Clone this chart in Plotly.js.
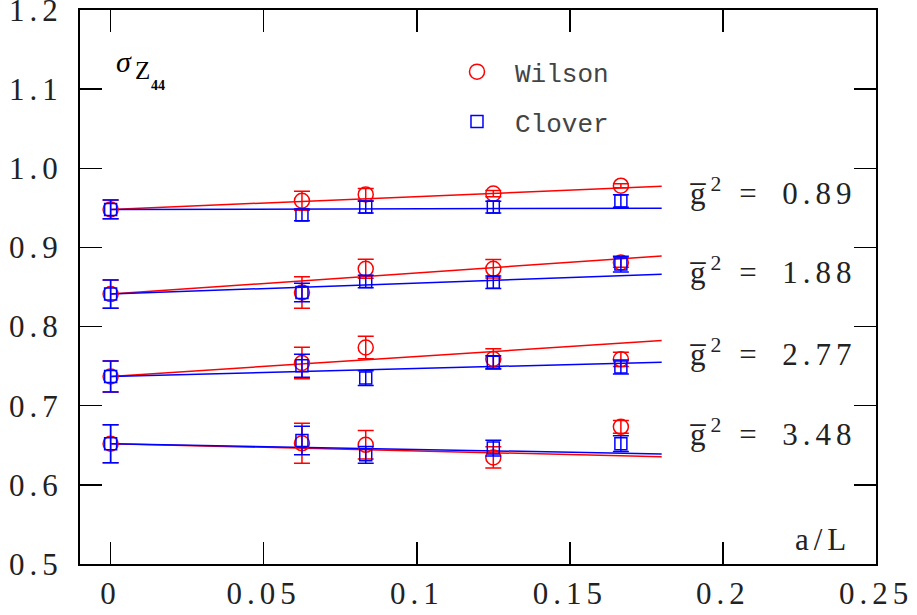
<!DOCTYPE html>
<html>
<head>
<meta charset="utf-8">
<script src="https://cdn.plot.ly/plotly-3.0.1.min.js"></script>
<style>
  html, body { margin: 0; padding: 0; background: #fff; }
  #chart { width: 917px; height: 615px; }
  .xtick text, .ytick text { letter-spacing: 5px; }
  text.annotation-text { letter-spacing: 5px; }
</style>
</head>
<body>
<div id="chart"></div>
<script>
// a/L values (L/a = inf, 16, 12, 8, 6)
const aOverL = [0, 0.0625, 0.08333, 0.125, 0.16667];
const couplings = ["0.89", "1.88", "2.77", "3.48"];

// Wilson data per coupling
const wilson089 = [0.948, 0.959, 0.967, 0.968, 0.978];
const wilson089Err = [0.0118, 0.012, 0.0076, 0.004, 0.0025];
const wilson188 = [0.841, 0.843, 0.873, 0.873, 0.881];
const wilson188Err = [0.018, 0.020, 0.012, 0.0116, 0.006];
const wilson277 = [0.737, 0.754, 0.7735, 0.759, 0.7586];
const wilson277Err = [0.0196, 0.020, 0.0143, 0.013, 0.009];
const wilson348 = [0.652, 0.6525, 0.6506, 0.6347, 0.6733];
const wilson348Err = [0.024, 0.0253, 0.018, 0.0133, 0.008];

// Clover data per coupling
const clover089 = [0.948, 0.941, 0.951, 0.951, 0.9587];
const clover089Err = [0.0118, 0.0074, 0.0074, 0.0074, 0.0078];
const clover188 = [0.841, 0.843, 0.857, 0.856, 0.879];
const clover188Err = [0.018, 0.0116, 0.008, 0.008, 0.010];
const clover277 = [0.737, 0.7506, 0.7349, 0.755, 0.749];
const clover277Err = [0.0196, 0.0145, 0.0093, 0.008, 0.0088];
const clover348 = [0.652, 0.6559, 0.6379, 0.6465, 0.652];
const clover348Err = [0.024, 0.018, 0.0105, 0.010, 0.0099];

// Linear fit lines (endpoints at a/L = 0 and 0.18)
const fitX = [0, 0.18];
const wilsonFit089 = [0.948, 0.9773];
const wilsonFit188 = [0.841, 0.8893];
const wilsonFit277 = [0.737, 0.7823];
const wilsonFit348 = [0.652, 0.6355];
const cloverFit089 = [0.948, 0.9495];
const cloverFit188 = [0.841, 0.8662];
const cloverFit277 = [0.737, 0.755];
const cloverFit348 = [0.652, 0.639];

// Axis ticks
const xTickVals = [0, 0.05, 0.1, 0.15, 0.2, 0.25];
const xTickText = ["0", "0.05", "0.1", "0.15", "0.2", "0.25"];
const yTickVals = [0.5, 0.6, 0.7, 0.8, 0.9, 1.0, 1.1, 1.2];
const yTickText = ["0.5", "0.6", "0.7", "0.8", "0.9", "1.0", "1.1", "1.2"];

const RED = "#ff0000";
const BLUE = "#0000ff";

const wilsonSets = [wilson089, wilson188, wilson277, wilson348];
const wilsonErrs = [wilson089Err, wilson188Err, wilson277Err, wilson348Err];
const cloverSets = [clover089, clover188, clover277, clover348];
const cloverErrs = [clover089Err, clover188Err, clover277Err, clover348Err];
const wilsonFits = [wilsonFit089, wilsonFit188, wilsonFit277, wilsonFit348];
const cloverFits = [cloverFit089, cloverFit188, cloverFit277, cloverFit348];

const traces = [];
wilsonFits.forEach(f => traces.push({x: fitX, y: f, mode: "lines", line: {color: RED, width: 1.5}, showlegend: false, hoverinfo: "skip"}));
cloverFits.forEach(f => traces.push({x: fitX, y: f, mode: "lines", line: {color: BLUE, width: 1.5}, showlegend: false, hoverinfo: "skip"}));

function flatX(n) { let a = []; for (let i = 0; i < n; i++) a = a.concat(aOverL); return a; }

traces.push({
  x: flatX(4), y: [].concat(...wilsonSets), name: "Wilson", legendgroup: "w",
  mode: "markers", type: "scatter",
  marker: {symbol: "circle-open", size: 15, color: RED, line: {width: 1.5, color: RED}},
  error_y: {type: "data", array: [].concat(...wilsonErrs), visible: true, color: RED, thickness: 1.5, width: 8}
});
traces.push({
  x: flatX(4), y: [].concat(...cloverSets), name: "Clover", legendgroup: "c",
  mode: "markers", type: "scatter",
  marker: {symbol: "square-open", size: 12, color: BLUE, line: {width: 1.5, color: BLUE}},
  error_y: {type: "data", array: [].concat(...cloverErrs), visible: true, color: BLUE, thickness: 1.5, width: 8}
});

const serif = "Liberation Serif, DejaVu Serif, serif";
const labelY = [0.673, 0.529, 0.382, 0.237];
const annotations = couplings.map((c, i) => ({
  xref: "paper", yref: "paper", x: 0.977, y: labelY[i], xanchor: "right", yanchor: "middle",
  text: "g\u0305<sup>2</sup> =\u2002" + c, showarrow: false,
  font: {family: serif, size: 31, color: "#222"}
}));
annotations.push({xref: "paper", yref: "paper", x: 0.0575, y: 0.907, xanchor: "center", yanchor: "middle",
  text: "<i>σ</i>", showarrow: false, font: {family: serif, size: 30, color: "#000"}});
annotations.push({xref: "paper", yref: "paper", x: 0.0815, y: 0.890, xanchor: "center", yanchor: "middle",
  text: "Z", showarrow: false, font: {family: serif, size: 25, color: "#000"}});
annotations.push({xref: "paper", yref: "paper", x: 0.0985, y: 0.863, xanchor: "center", yanchor: "middle",
  text: "<b><span style=\"letter-spacing:0px\">44</span></b>", showarrow: false, font: {family: serif, size: 14, color: "#000"}});
annotations.push({xref: "paper", yref: "paper", x: 0.934, y: 0.045, xanchor: "center", yanchor: "middle",
  text: "a/L", showarrow: false, font: {family: serif, size: 31, color: "#222"}});

function axisBase() {
  return {
    showline: true, mirror: "ticks", linecolor: "#000", linewidth: 2,
    ticks: "inside", ticklen: 22, tickwidth: 1.5, tickcolor: "#000",
    showgrid: false, zeroline: false, ticklabeloverflow: "allow",
    tickfont: {family: serif, size: 31, color: "#222"}
  };
}

const layout = {
  width: 917, height: 615,
  margin: {l: 80, r: 41, t: 10, b: 51},
  paper_bgcolor: "#fff", plot_bgcolor: "#fff",
  showlegend: true,
  legend: {x: 0.451, y: 0.931, xanchor: "left", yanchor: "top", tracegroupgap: 13, itemwidth: 66,
    font: {family: "Liberation Mono, DejaVu Sans Mono, monospace", size: 26},
    bgcolor: "rgba(0,0,0,0)"},
  xaxis: Object.assign(axisBase(), {range: [-0.01, 0.25], tickmode: "array", tickvals: xTickVals, ticktext: xTickText, ticklabelstandoff: 1}),
  yaxis: Object.assign(axisBase(), {range: [0.5, 1.2], tickmode: "array", tickvals: yTickVals, ticktext: yTickText, ticklabelstandoff: 9}),
  annotations: annotations
};

Plotly.newPlot("chart", traces, layout, {displayModeBar: false, staticPlot: true});
</script>
</body>
</html>
